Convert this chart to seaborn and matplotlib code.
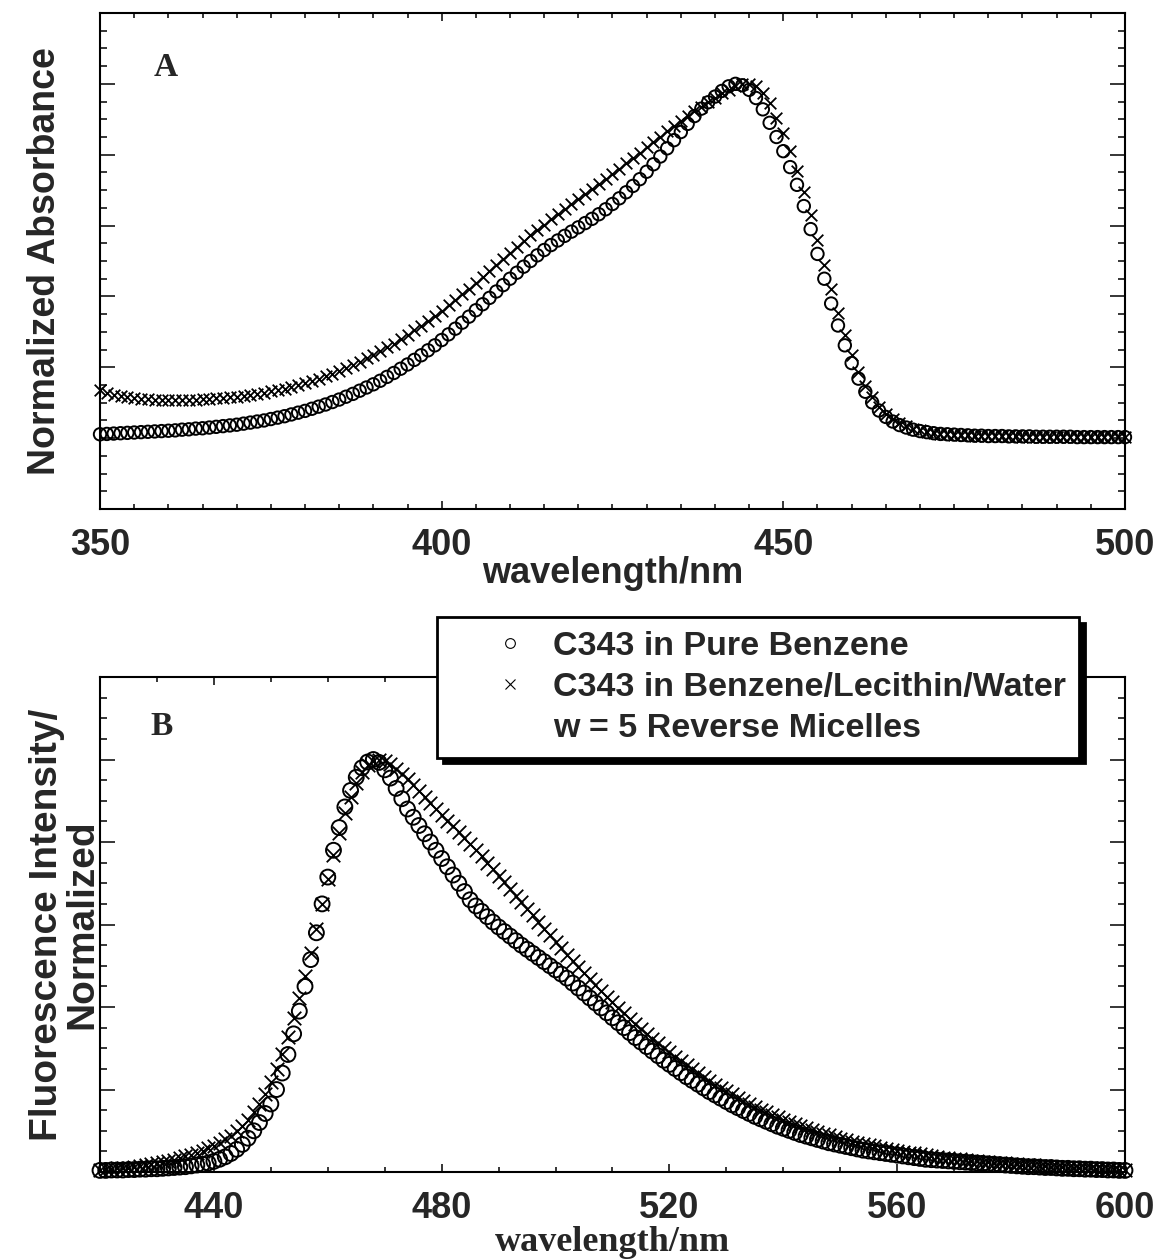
import numpy as np
import matplotlib
matplotlib.use("Agg")
import matplotlib.pyplot as plt
import seaborn as sns
from matplotlib.lines import Line2D
from matplotlib.ticker import MultipleLocator

# ---- data ----
# A: absorbance, 350-500 nm, 1 nm steps
wl_abs = np.arange(350, 501)
abs_benzene = [
    0.011, 0.012, 0.013, 0.014, 0.015, 0.016, 0.017, 0.018, 0.019, 0.020,
    0.021, 0.022, 0.024, 0.025, 0.027, 0.028, 0.030, 0.032, 0.034, 0.036,
    0.038, 0.041, 0.044, 0.047, 0.050, 0.054, 0.058, 0.062, 0.067, 0.072,
    0.077, 0.083, 0.089, 0.095, 0.102, 0.109, 0.117, 0.125, 0.134, 0.143,
    0.152, 0.162, 0.173, 0.184, 0.196, 0.208, 0.221, 0.234, 0.248, 0.262,
    0.277, 0.293, 0.309, 0.326, 0.343, 0.361, 0.378, 0.396, 0.414, 0.432,
    0.450, 0.467, 0.484, 0.500, 0.516, 0.531, 0.545, 0.558, 0.571, 0.583,
    0.595, 0.607, 0.619, 0.632, 0.646, 0.661, 0.677, 0.694, 0.712, 0.731,
    0.752, 0.773, 0.795, 0.818, 0.841, 0.864, 0.887, 0.909, 0.930, 0.948,
    0.964, 0.980, 0.993, 1.000, 0.996, 0.983, 0.960, 0.928, 0.890, 0.850,
    0.810, 0.765, 0.715, 0.655, 0.590, 0.520, 0.450, 0.380, 0.318, 0.262,
    0.212, 0.168, 0.131, 0.101, 0.078, 0.060, 0.047, 0.037, 0.030, 0.024,
    0.020, 0.017, 0.014, 0.012, 0.011, 0.010, 0.009, 0.008, 0.007, 0.007,
    0.006, 0.006, 0.006, 0.005, 0.005, 0.005, 0.005, 0.004, 0.004, 0.004,
    0.004, 0.004, 0.004, 0.003, 0.003, 0.003, 0.003, 0.003, 0.003, 0.003, 0.003,
]
abs_micelle = [
    0.135, 0.128, 0.122, 0.118, 0.115, 0.113, 0.111, 0.110, 0.109, 0.108,
    0.108, 0.108, 0.108, 0.108, 0.109, 0.110, 0.111, 0.112, 0.113, 0.115,
    0.117, 0.119, 0.122, 0.125, 0.128, 0.132, 0.136, 0.140, 0.145, 0.150,
    0.156, 0.162, 0.168, 0.175, 0.182, 0.190, 0.198, 0.206, 0.215, 0.225,
    0.235, 0.245, 0.256, 0.267, 0.279, 0.291, 0.304, 0.317, 0.331, 0.345,
    0.360, 0.375, 0.390, 0.406, 0.422, 0.438, 0.455, 0.472, 0.489, 0.506,
    0.523, 0.540, 0.556, 0.572, 0.588, 0.603, 0.618, 0.632, 0.646, 0.660,
    0.674, 0.688, 0.702, 0.716, 0.731, 0.746, 0.761, 0.776, 0.791, 0.806,
    0.821, 0.836, 0.851, 0.866, 0.881, 0.895, 0.909, 0.923, 0.936, 0.949,
    0.961, 0.973, 0.984, 0.993, 0.999, 1.000, 0.993, 0.975, 0.945, 0.905,
    0.860, 0.810, 0.755, 0.695, 0.630, 0.560, 0.490, 0.420, 0.352, 0.290,
    0.235, 0.188, 0.148, 0.115, 0.089, 0.069, 0.054, 0.042, 0.033, 0.027,
    0.022, 0.018, 0.015, 0.013, 0.011, 0.010, 0.009, 0.008, 0.007, 0.007,
    0.006, 0.006, 0.005, 0.005, 0.005, 0.004, 0.004, 0.004, 0.004, 0.003,
    0.003, 0.003, 0.003, 0.003, 0.002, 0.002, 0.002, 0.002, 0.002, 0.002, 0.002,
]

# B: fluorescence, 420-600 nm, 1 nm steps
wl_fl = np.arange(420, 601)
fl_benzene = [
    0.004, 0.004, 0.005, 0.005, 0.005, 0.006, 0.006, 0.007, 0.007, 0.008,
    0.008, 0.009, 0.010, 0.011, 0.012, 0.013, 0.015, 0.017, 0.019, 0.022,
    0.026, 0.031, 0.037, 0.045, 0.055, 0.067, 0.082, 0.100, 0.120, 0.142,
    0.165, 0.200, 0.240, 0.285, 0.335, 0.390, 0.450, 0.515, 0.580, 0.650,
    0.715, 0.780, 0.835, 0.885, 0.925, 0.957, 0.980, 0.994, 1.000, 0.993,
    0.975, 0.955, 0.930, 0.905, 0.880, 0.860, 0.840, 0.820, 0.800, 0.780,
    0.760, 0.740, 0.720, 0.700, 0.680, 0.660, 0.645, 0.632, 0.619, 0.606,
    0.594, 0.583, 0.572, 0.561, 0.550, 0.540, 0.530, 0.520, 0.510, 0.500,
    0.490, 0.480, 0.470, 0.458, 0.446, 0.434, 0.422, 0.410, 0.398, 0.386,
    0.374, 0.362, 0.350, 0.338, 0.326, 0.315, 0.304, 0.293, 0.282, 0.271,
    0.261, 0.251, 0.241, 0.231, 0.222, 0.213, 0.204, 0.195, 0.187, 0.179,
    0.171, 0.163, 0.156, 0.149, 0.142, 0.135, 0.129, 0.123, 0.117, 0.111,
    0.106, 0.101, 0.096, 0.091, 0.087, 0.083, 0.079, 0.075, 0.071, 0.068,
    0.065, 0.062, 0.059, 0.056, 0.053, 0.051, 0.049, 0.047, 0.045, 0.043,
    0.041, 0.039, 0.037, 0.035, 0.033, 0.031, 0.030, 0.029, 0.028, 0.027,
    0.026, 0.025, 0.024, 0.023, 0.022, 0.021, 0.020, 0.019, 0.018, 0.017,
    0.016, 0.015, 0.014, 0.013, 0.013, 0.012, 0.011, 0.011, 0.010, 0.009,
    0.009, 0.008, 0.008, 0.007, 0.007, 0.006, 0.006, 0.005, 0.005, 0.004, 0.004,
]
fl_micelle = [
    0.006, 0.007, 0.008, 0.009, 0.010, 0.011, 0.013, 0.015, 0.017, 0.019,
    0.021, 0.024, 0.027, 0.030, 0.034, 0.038, 0.042, 0.047, 0.052, 0.058,
    0.064, 0.071, 0.079, 0.088, 0.099, 0.112, 0.127, 0.145, 0.166, 0.190,
    0.218, 0.250, 0.287, 0.328, 0.373, 0.422, 0.475, 0.531, 0.590, 0.650,
    0.710, 0.768, 0.822, 0.870, 0.910, 0.944, 0.970, 0.987, 0.997, 1.000,
    0.996, 0.988, 0.977, 0.965, 0.952, 0.938, 0.924, 0.909, 0.894, 0.880,
    0.866, 0.852, 0.838, 0.824, 0.810, 0.795, 0.780, 0.765, 0.750, 0.734,
    0.718, 0.702, 0.686, 0.670, 0.654, 0.638, 0.622, 0.606, 0.590, 0.574,
    0.558, 0.542, 0.527, 0.512, 0.497, 0.482, 0.467, 0.453, 0.439, 0.425,
    0.411, 0.398, 0.385, 0.372, 0.359, 0.347, 0.335, 0.323, 0.312, 0.301,
    0.290, 0.279, 0.269, 0.259, 0.249, 0.239, 0.230, 0.221, 0.212, 0.204,
    0.196, 0.188, 0.180, 0.172, 0.165, 0.158, 0.151, 0.145, 0.139, 0.133,
    0.127, 0.121, 0.116, 0.111, 0.106, 0.101, 0.097, 0.093, 0.089, 0.085,
    0.081, 0.077, 0.074, 0.071, 0.068, 0.065, 0.062, 0.059, 0.056, 0.054,
    0.051, 0.049, 0.047, 0.045, 0.043, 0.041, 0.039, 0.037, 0.035, 0.034,
    0.032, 0.031, 0.029, 0.028, 0.027, 0.025, 0.024, 0.023, 0.022, 0.021,
    0.020, 0.019, 0.018, 0.017, 0.016, 0.015, 0.014, 0.013, 0.013, 0.012,
    0.011, 0.011, 0.010, 0.009, 0.009, 0.008, 0.008, 0.007, 0.007, 0.006, 0.006,
]

legend_labels = ["C343 in Pure Benzene",
                 "C343 in Benzene/Lecithin/Water",
                 "w = 5 Reverse Micelles"]

# ---- style ----
sns.set_style("ticks")
plt.rcParams["font.family"] = ["Liberation Sans", "DejaVu Sans"]
plt.rcParams["font.weight"] = "bold"
plt.rcParams["axes.linewidth"] = 1.5

fig = plt.figure(figsize=(11.63, 12.6), dpi=100)
ax1 = fig.add_axes([0.086, 0.596, 0.8813, 0.3937])
ax2 = fig.add_axes([0.086, 0.0698, 0.8813, 0.3929])

# A
sns.scatterplot(x=wl_abs, y=abs_benzene, marker="o", s=80, facecolors="none",
                edgecolor="black", linewidth=1.4, clip_on=False, legend=False, ax=ax1)
sns.scatterplot(x=wl_abs, y=abs_micelle, marker="x", s=70, color="black",
                linewidth=1.3, clip_on=False, legend=False, ax=ax1)
ax1.set_xlim(350, 500)
ax1.set_ylim(-0.2, 1.2)
ax1.xaxis.set_major_locator(MultipleLocator(50))
ax1.xaxis.set_minor_locator(MultipleLocator(5))

# B
sns.scatterplot(x=wl_fl, y=fl_benzene, marker="o", s=115, facecolors="none",
                edgecolor="black", linewidth=1.4, clip_on=False, legend=False, ax=ax2)
sns.scatterplot(x=wl_fl, y=fl_micelle, marker="x", s=95, color="black",
                linewidth=1.3, clip_on=False, legend=False, ax=ax2)
ax2.set_xlim(420, 600)
ax2.set_ylim(0, 1.2)
ax2.xaxis.set_major_locator(MultipleLocator(40))
ax2.xaxis.set_minor_locator(MultipleLocator(10))

for ax in (ax1, ax2):
    ax.yaxis.set_major_locator(MultipleLocator(0.2))
    ax.yaxis.set_minor_locator(MultipleLocator(0.05))
    ax.tick_params(which="both", direction="in", top=True, right=True,
                   labelleft=False, width=1.1, color="black")
    ax.tick_params(axis="y", which="major", length=11)
    ax.tick_params(axis="y", which="minor", length=5)
    ax.tick_params(axis="x", which="major", length=6, labelsize=26, pad=14)
    ax.tick_params(axis="x", which="minor", length=3.5)
    for sp in ax.spines.values():
        sp.set_color("black")

ax1.set_xlabel("wavelength/nm", fontsize=26, fontweight="bold")
ax1.xaxis.set_label_coords(0.5, -0.094)
ax1.set_ylabel("Normalized Absorbance", fontsize=27, fontweight="bold")
ax1.yaxis.set_label_coords(-0.036, 0.5)

ax2.set_xlabel("wavelength/nm", fontsize=26, fontweight="bold",
               family="Liberation Serif")
ax2.xaxis.set_label_coords(0.5, -0.108)
ax2.set_ylabel("Fluorescence Intensity/\nNormalized", fontsize=28,
               fontweight="bold", linespacing=0.95)
ax2.yaxis.set_label_coords(0.0, 0.5)

ax1.text(0.064, 0.891, "A", transform=ax1.transAxes, ha="center", va="center",
         fontsize=24, fontweight="bold", family="Liberation Serif")
ax2.text(0.06, 0.899, "B", transform=ax2.transAxes, ha="center", va="center",
         fontsize=24, fontweight="bold", family="Liberation Serif")

# legend
handles = [
    Line2D([], [], ls="none", marker="o", mfc="none", mec="black", ms=7, mew=0.8),
    Line2D([], [], ls="none", marker="x", color="black", ms=7, mew=0.8),
    Line2D([], [], ls="none"),
]
leg = fig.legend(handles, legend_labels, loc="upper left",
                 bbox_to_anchor=(437 / 1163, 1 - 617 / 1260),
                 prop={"family": "Liberation Sans", "weight": "bold", "size": 24.5},
                 frameon=True, fancybox=False, framealpha=1, edgecolor="black",
                 borderpad=0.4, labelspacing=0.3, handlelength=3.5,
                 handletextpad=-0.5, borderaxespad=0,
                 shadow={"color": "black", "alpha": 1, "ox": 4, "oy": -4})
leg.get_frame().set_linewidth(2)

plt.savefig("out.png", dpi=100)
